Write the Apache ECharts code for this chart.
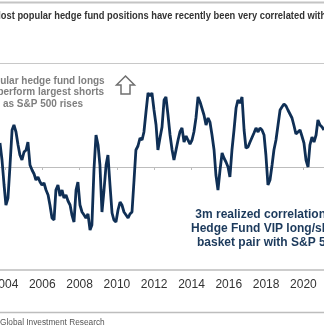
<!DOCTYPE html>
<html><head><meta charset="utf-8">
<script src="https://cdn.jsdelivr.net/npm/echarts@6/dist/echarts.min.js"></script>
<style>html,body{margin:0;padding:0;background:#fff;}#c{width:324px;height:331px;}</style>
</head><body><div id="c"></div>
<script>
// Decimal-year dates
const dates = [2003.73,2003.84,2003.95,2004.05,2004.16,2004.27,2004.38,2004.48,2004.59,2004.70,2004.80,2004.91,2005.02,2005.13,2005.23,2005.34,2005.45,2005.56,2005.66,2005.77,2005.88,2005.98,2006.09,2006.20,2006.31,2006.41,2006.52,2006.63,2006.73,2006.84,2006.95,2007.06,2007.16,2007.27,2007.38,2007.49,2007.59,2007.70,2007.81,2007.91,2008.02,2008.13,2008.24,2008.34,2008.45,2008.56,2008.66,2008.77,2008.88,2008.99,2009.09,2009.20,2009.31,2009.42,2009.52,2009.63,2009.74,2009.84,2009.95,2010.06,2010.17,2010.27,2010.38,2010.49,2010.60,2010.70,2010.81,2010.92,2011.02,2011.13,2011.24,2011.35,2011.45,2011.56,2011.67,2011.78,2011.88,2011.99,2012.10,2012.20,2012.31,2012.42,2012.53,2012.63,2012.74,2012.85,2012.96,2013.06,2013.17,2013.28,2013.38,2013.49,2013.60,2013.71,2013.81,2013.92,2014.03,2014.13,2014.24,2014.35,2014.46,2014.56,2014.67,2014.78,2014.89,2014.99,2015.10,2015.21,2015.31,2015.42,2015.53,2015.64,2015.74,2015.85,2015.96,2016.06,2016.17,2016.28,2016.39,2016.49,2016.60,2016.71,2016.82,2016.92,2017.03,2017.14,2017.24,2017.35,2017.46,2017.57,2017.67,2017.78,2017.89,2017.99,2018.10,2018.21,2018.32,2018.42,2018.53,2018.64,2018.75,2018.85,2018.96,2019.07,2019.17,2019.28,2019.39,2019.50,2019.60,2019.71,2019.82,2019.92,2020.03,2020.14,2020.25,2020.35,2020.46,2020.57,2020.68,2020.78,2020.89,2021.00,2021.10];
// 3m realized correlation values (estimated)
const correlation = [0.24,0.07,-0.18,-0.38,-0.31,0.02,0.37,0.42,0.35,0.22,0.12,0.07,0.15,0.17,0.25,0.02,-0.03,-0.07,-0.13,-0.10,-0.15,-0.18,-0.16,-0.23,-0.28,-0.38,-0.51,-0.53,-0.23,-0.18,-0.29,-0.23,-0.31,-0.28,-0.34,-0.38,-0.48,-0.55,-0.23,-0.15,-0.38,-0.45,-0.48,-0.51,-0.47,-0.63,-0.58,-0.03,0.32,0.22,0.02,-0.45,-0.23,0.02,0.12,-0.18,-0.46,-0.53,-0.55,-0.43,-0.35,-0.38,-0.45,-0.48,-0.51,-0.47,-0.45,-0.13,0.17,0.21,0.29,0.27,0.35,0.55,0.74,0.71,0.74,0.57,0.42,0.17,0.29,0.40,0.67,0.70,0.52,0.32,0.17,0.07,0.17,0.27,0.35,0.39,0.25,0.31,0.27,0.23,0.27,0.35,0.49,0.70,0.65,0.67,0.52,0.42,0.49,0.45,0.32,0.17,-0.08,-0.23,-0.03,0.14,0.09,0.05,0.00,-0.10,0.17,0.37,0.59,0.67,0.64,0.70,0.37,0.19,0.20,0.25,0.27,0.34,0.39,0.35,0.39,0.37,0.32,0.12,-0.18,-0.13,0.02,0.17,0.27,0.42,0.57,0.60,0.63,0.61,0.57,0.53,0.49,0.41,0.33,0.35,0.37,0.31,0.24,0.07,0.00,0.22,0.30,0.25,0.32,0.47,0.42,0.40,0.37];
const yearTicks = [2004,2006,2008,2010,2012,2014,2016,2018,2020];
const xMin = 2003.732, xMax = 2021.105;
const titleText = 'Most popular hedge fund positions have recently been very correlated with S&P 500';
const noteLeft = 'Popular hedge fund longs\noutperform largest shorts\nas S&P 500 rises';
const noteRight = '3m realized correlation of\nHedge Fund VIP long/short\nbasket pair with S&P 500';
const sourceText = 'Global Investment Research';

const seriesData = dates.map((d, i) => [d, correlation[i]]);
const chart = echarts.init(document.getElementById('c'), null, {renderer: 'canvas'});
const baseX = {type: 'value', min: xMin, max: xMax, splitLine: {show: false}};
chart.setOption({
  animation: false,
  backgroundColor: '#fff',
  grid: {left: 0, right: 0, top: 64, bottom: 61, containLabel: false, outerBoundsMode: 'none'},
  xAxis: [
    Object.assign({}, baseX, {position: 'bottom',
     axisLine: {onZero: true, lineStyle: {color: '#bdbdbd', width: 1}},
     axisTick: {show: true, inside: false, length: 3, customValues: yearTicks, lineStyle: {color: '#bdbdbd'}},
     axisLabel: {show: false}}),
    Object.assign({}, baseX, {position: 'bottom',
     axisLine: {onZero: false, show: true, lineStyle: {color: '#bdbdbd', width: 1.5}},
     axisTick: {show: false},
     axisLabel: {show: true, margin: 9, color: '#333', fontSize: 12, fontFamily: 'Liberation Sans, Arial, sans-serif',
                 customValues: yearTicks, hideOverlap: false, formatter: v => String(Math.round(v))}})
  ],
  yAxis: {type: 'value', min: -1.03, max: 1.03, show: false},
  series: [{type: 'line', xAxisIndex: 0, data: seriesData, showSymbol: false, symbol: 'none',
            lineStyle: {color: '#0f2f55', width: 2.8}}],
  graphic: [
    {type: 'line', shape: {x1: 0, y1: 2.5, x2: 324, y2: 2.5}, style: {stroke: '#c4c4c4', lineWidth: 2}},
    {type: 'line', shape: {x1: 0, y1: 63.5, x2: 324, y2: 63.5}, style: {stroke: '#c8c8c8', lineWidth: 1}},
    {type: 'text', x: -7, y: 16, scaleX: 0.812, style: {text: titleText, font: 'bold 11.5px "Liberation Sans", Arial, sans-serif', fill: '#333', textAlign: 'left', textVerticalAlign: 'middle'}},
    {type: 'text', x: 43, y: 75, style: {text: noteLeft, font: 'bold 10px "Liberation Sans", Arial, sans-serif', fill: '#7f7f7f', textAlign: 'center', textVerticalAlign: 'top', lineHeight: 11.7}},
    {type: 'polygon', shape: {points: [[125.5,76],[134.5,85],[130,85],[130,94],[121,94],[121,85],[116.5,85]]}, style: {fill: '#fff', stroke: '#707070', lineWidth: 1.5}},
    {type: 'text', x: 268, y: 208, style: {text: noteRight, font: 'bold 12px "Liberation Sans", Arial, sans-serif', fill: '#1c3a5c', textAlign: 'center', textVerticalAlign: 'top', lineHeight: 14}},
    {type: 'line', shape: {x1: 0, y1: 312.5, x2: 324, y2: 312.5}, style: {stroke: '#bdbdbd', lineWidth: 1.5}},
    {type: 'text', x: 0, y: 323, style: {text: sourceText, font: '8.3px "Liberation Sans Narrow", "Liberation Sans", sans-serif', fill: '#555', textAlign: 'left', textVerticalAlign: 'middle'}}
  ]
});
</script></body></html>
